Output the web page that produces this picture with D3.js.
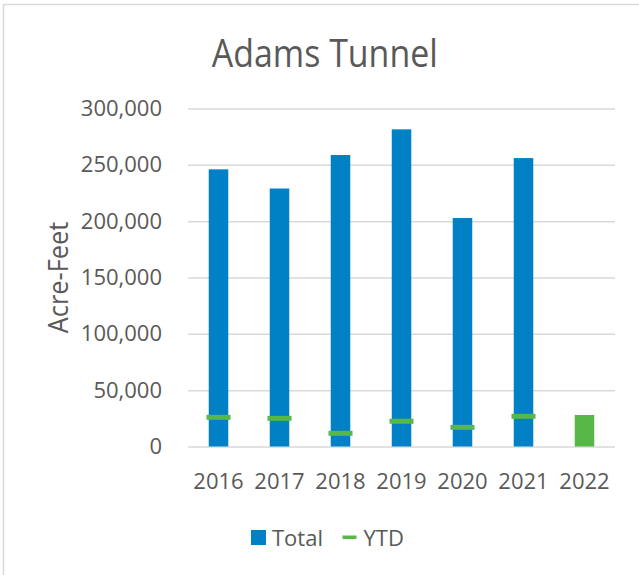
<!DOCTYPE html>
<html>
<head>
<meta charset="utf-8">
<script src="https://cdn.jsdelivr.net/npm/d3@7"></script>
<style>
  html, body { margin: 0; padding: 0; background: #fff; }
  svg { display: block; }
  text { font-family: "Open Sans", "Noto Sans", sans-serif; fill: #595959; }
</style>
</head>
<body>
<svg id="chart" width="639" height="575"></svg>
<script>
// ---- data ----
const years = ["2016", "2017", "2018", "2019", "2020", "2021", "2022"];
const totals = [246000, 229000, 258700, 281500, 202800, 256000, 28000];
const ytd = [25900, 25000, 11700, 22400, 17000, 26800, null];
const yTicks = [0, 50000, 100000, 150000, 200000, 250000, 300000];
const seriesNames = ["Total", "YTD"];
const seriesColors = ["#0081c6", "#57b848"];
const highlightYear = "2022";

const svg = d3.select("#chart");

// chart border
svg.append("rect")
  .attr("x", 3.5).attr("y", 4.5)
  .attr("width", 700).attr("height", 700)
  .attr("fill", "#fff").attr("stroke", "#d9d9d9").attr("stroke-width", 1.5);

const plotLeft = 188, plotRight = 615, plotTop = 108.5, plotBottom = 446.5;

const x = d3.scaleBand().domain(years).range([plotLeft, plotRight])
  .paddingInner(0.68).paddingOuter(0.34);
const y = d3.scaleLinear().domain([0, 300000]).range([plotBottom, plotTop]);

// y axis with gridlines
const yAxis = d3.axisLeft(y).tickValues(yTicks)
  .tickSizeInner(-(plotRight - plotLeft)).tickSizeOuter(0).tickPadding(26)
  .tickFormat(d3.format(","));
const gy = svg.append("g").attr("transform", `translate(${plotLeft},0)`).call(yAxis);
gy.select(".domain").remove();
gy.selectAll(".tick line").attr("stroke", "#d9d9d9").attr("stroke-width", 1.5);
gy.selectAll(".tick text").attr("font-size", 22).attr("fill", "#595959")
  .style("font-family", '"Open Sans", sans-serif');

// bars
svg.append("g").selectAll("rect").data(years).join("rect")
  .attr("x", d => x(d))
  .attr("width", x.bandwidth())
  .attr("y", (d, i) => y(totals[i]))
  .attr("height", (d, i) => y(0) - y(totals[i]))
  .attr("fill", d => d === highlightYear ? seriesColors[1] : seriesColors[0]);

// YTD markers
const mw = 24, mh = 5;
svg.append("g").selectAll("rect").data(years.filter((d, i) => ytd[i] != null)).join("rect")
  .attr("x", d => x(d) + x.bandwidth() / 2 - mw / 2)
  .attr("y", d => y(ytd[years.indexOf(d)]) - mh / 2)
  .attr("width", mw).attr("height", mh)
  .attr("fill", seriesColors[1]);

// x axis
const xAxis = d3.axisBottom(x).tickSize(0).tickPadding(27);
const gx = svg.append("g").attr("transform", `translate(0,${plotBottom})`).call(xAxis);
gx.select(".domain").remove();
gx.selectAll(".tick text").attr("font-size", 22).attr("fill", "#595959")
  .style("font-family", '"Open Sans", sans-serif');

// title
svg.append("text")
  .attr("x", 324.8).attr("y", 66.7)
  .attr("text-anchor", "middle")
  .attr("font-size", 39)
  .attr("textLength", 226)
  .attr("lengthAdjust", "spacingAndGlyphs")
  .text("Adams Tunnel");

// y axis title
svg.append("text")
  .attr("transform", "translate(68.3,277.5) rotate(-90)")
  .attr("text-anchor", "middle")
  .attr("font-size", 27)
  .attr("textLength", 111.5)
  .attr("lengthAdjust", "spacingAndGlyphs")
  .text("Acre-Feet");

// legend
const lg = svg.append("g");
lg.append("rect").attr("x", 251).attr("y", 530).attr("width", 15).attr("height", 15)
  .attr("fill", seriesColors[0]);
lg.append("text").attr("x", 272).attr("y", 545.5).attr("font-size", 22).text(seriesNames[0]);
lg.append("rect").attr("x", 342.5).attr("y", 535.5).attr("width", 14).attr("height", 3.5)
  .attr("fill", seriesColors[1]);
lg.append("text").attr("x", 363.5).attr("y", 545.5).attr("font-size", 22).text(seriesNames[1]);
</script>
</body>
</html>
